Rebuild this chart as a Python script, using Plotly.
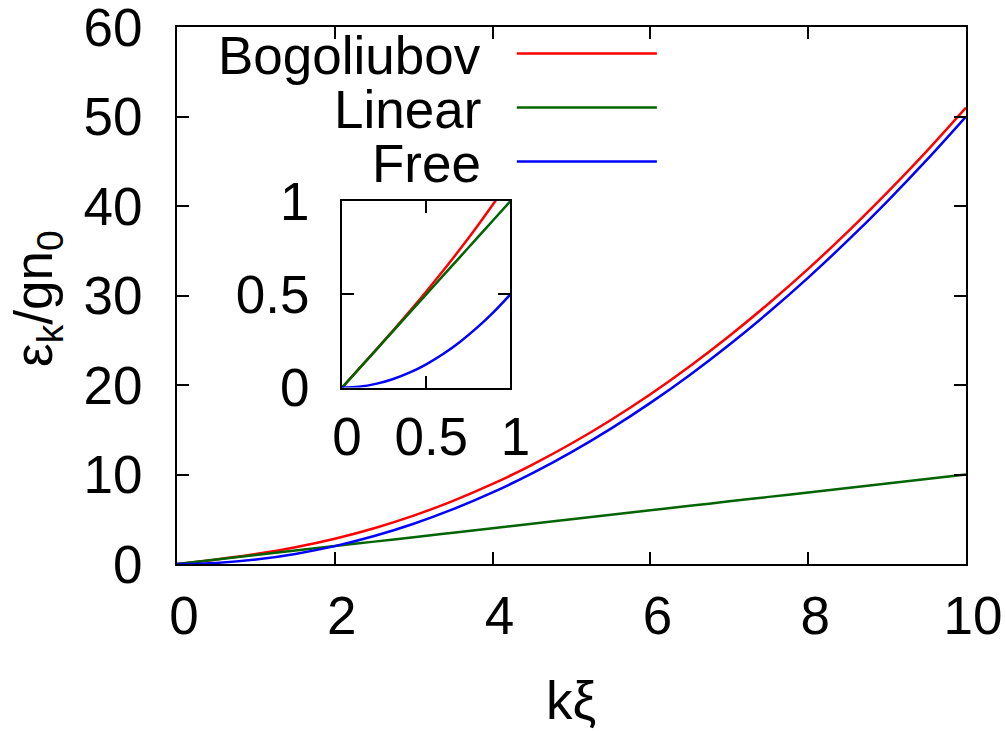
import plotly.graph_objects as go

# ---- data ----
k_main = [0, 0.5, 1, 1.5, 2, 2.5, 3, 3.5, 4, 4.5, 5, 5.5, 6, 6.5, 7, 7.5, 8, 8.5, 9, 9.5, 10]
bogoliubov_main = [0, 0.515, 1.118, 1.875, 2.828, 4.002, 5.408, 7.055, 8.944, 11.08, 13.46,
                   16.09, 18.97, 22.10, 25.48, 29.11, 32.98, 37.11, 41.49, 46.11, 50.99]
linear_main = [0, 0.5, 1, 1.5, 2, 2.5, 3, 3.5, 4, 4.5, 5, 5.5, 6, 6.5, 7, 7.5, 8, 8.5, 9, 9.5, 10]
free_main = [0, 0.125, 0.5, 1.125, 2, 3.125, 4.5, 6.125, 8, 10.125, 12.5, 15.125, 18, 21.125,
             24.5, 28.125, 32, 36.125, 40.5, 45.125, 50]

k_inset = [0, 0.1, 0.2, 0.3, 0.4, 0.5, 0.6, 0.7, 0.8, 0.9, 1.0]
bogoliubov_inset = [0, 0.1001, 0.201, 0.3034, 0.4079, 0.5154, 0.6264, 0.7416, 0.8616, 0.987, 1.118]
linear_inset = [0, 0.1, 0.2, 0.3, 0.4, 0.5, 0.6, 0.7, 0.8, 0.9, 1.0]
free_inset = [0, 0.005, 0.02, 0.045, 0.08, 0.125, 0.18, 0.245, 0.32, 0.405, 0.5]

series_names = ["Bogoliubov", "Linear", "Free"]
series_colors = ["#ff0000", "#006400", "#0000ff"]

main_x_ticks = [0, 2, 4, 6, 8, 10]
main_y_ticks = [0, 10, 20, 30, 40, 50, 60]
inset_ticks = [0, 0.5, 1]
inset_tick_text = ["0", "0.5", "1"]

FONT = "Liberation Sans, Arial, sans-serif"
FS = 53
W, H = 1006, 731
L, R, T, B = 177, 965.7, 26.7, 564.3


def px(x):
    return (x - L) / (R - L)


def py(y):
    return (B - y) / (B - T)


fig = go.Figure()

main_series = [bogoliubov_main, linear_main, free_main]
inset_series = [bogoliubov_inset, linear_inset, free_inset]

for name, col, ys in zip(series_names, series_colors, main_series):
    fig.add_trace(go.Scatter(x=k_main, y=ys, mode="lines", name=name,
                             line=dict(color=col, width=2.5, shape="spline"),
                             showlegend=False, xaxis="x", yaxis="y"))
for name, col, ys in zip(series_names, series_colors, inset_series):
    fig.add_trace(go.Scatter(x=k_inset, y=ys, mode="lines", name=name,
                             line=dict(color=col, width=2.5, shape="spline"),
                             showlegend=False, xaxis="x2", yaxis="y2"))

axis_common = dict(showline=True, linecolor="black", linewidth=2, mirror="ticks",
                   ticks="inside", ticklen=12, tickwidth=1.5, tickcolor="black",
                   showgrid=False, zeroline=False, automargin=False,
                   ticklabeloverflow="allow",
                   tickfont=dict(family=FONT, size=FS, color="black"))

ix0, ix1 = px(342), px(510.3)
iy0, iy1 = py(387.7), py(201)

fig.update_layout(
    width=W, height=H,
    margin=dict(l=L, r=W - R, t=T, b=H - B, pad=0),
    paper_bgcolor="white", plot_bgcolor="white",
    xaxis=dict(range=[0, 10], tickvals=main_x_ticks, domain=[0, 1],
               ticklabelstandoff=4, ticklabelshift=7, **axis_common),
    yaxis=dict(range=[0, 60], tickvals=main_y_ticks, domain=[0, 1],
               ticklabelstandoff=22, **axis_common),
    xaxis2=dict(range=[0, 1], tickvals=inset_ticks, ticktext=inset_tick_text,
                domain=[ix0, ix1], anchor="y2",
                ticklabelstandoff=2, ticklabelshift=5, **axis_common),
    yaxis2=dict(range=[0, 1], tickvals=inset_ticks, ticktext=inset_tick_text,
                domain=[iy0, iy1], anchor="x2",
                ticklabelstandoff=20, **axis_common),
    showlegend=False,
)

# Axis titles
fig.add_annotation(text="kξ", x=px(571), y=py(701), xref="paper", yref="paper",
                   showarrow=False, font=dict(family=FONT, size=FS, color="black"),
                   xanchor="center", yanchor="middle")
fig.add_annotation(text="ε<sub>k</sub>/gn<sub>0</sub>", x=px(38), y=py(298),
                   xref="paper", yref="paper", textangle=-90,
                   showarrow=False, font=dict(family=FONT, size=FS, color="black"),
                   xanchor="center", yanchor="middle")

# Legend (text right-aligned, sample line to the right)
legend_rows = [53.3, 107.3, 161.3]
for name, col, yy in zip(series_names, series_colors, legend_rows):
    fig.add_annotation(text=name, x=px(483), y=py(yy + 2), xref="paper", yref="paper",
                       showarrow=False, xanchor="right", yanchor="middle",
                       font=dict(family=FONT, size=FS, color="black"))
    fig.add_shape(type="line", xref="paper", yref="paper",
                  x0=px(516.7), x1=px(656.7), y0=py(yy), y1=py(yy),
                  line=dict(color=col, width=2.5))

fig.write_html("out.html", config={"displayModeBar": False},
               post_script="document.body.style.margin='0';document.body.style.overflow='hidden';")
